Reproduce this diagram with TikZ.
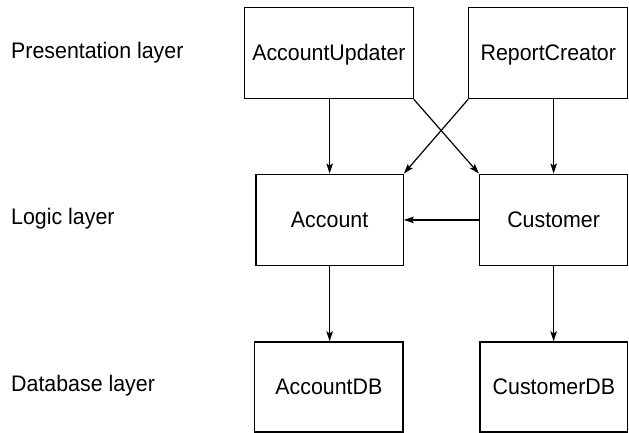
\documentclass[tikz,border=0pt]{standalone}
\usepackage{fontspec}
\setmainfont[FakeStretch=0.95]{Liberation Sans}
\usetikzlibrary{arrows.meta}
\begin{document}
\begin{tikzpicture}[x=1pt,y=-1pt,
  every node/.style={font=\fontsize{22.5}{26}\selectfont},
  box/.style={draw=black,line width=1.2pt,inner sep=0pt,text height=16pt,text depth=0pt,minimum height=91.5pt},
  layer/.style={anchor=base west,inner sep=0pt},
  conn/.style={line width=1.2pt,-{Stealth[length=10pt,width=6.5pt,inset=2pt]}}]
\useasboundingbox (0,0) rectangle (629,433);
\node[layer] (lp) at (11,59) {Presentation layer};
\node[layer] (ll) at (11,224) {Logic layer};
\node[layer] (ld) at (11,391.5) {Database layer};
\node[box,minimum width=168.5pt] (au) at (328.9,52.9) {AccountUpdater};
\node[box,minimum width=159pt] (rc) at (548.3,52.9) {ReportCreator};
\node[box,minimum width=147.3pt] (ac) at (329.6,219.9) {Account};
\node[box,minimum width=148.3pt] (cu) at (553.6,219.9) {Customer};
\node[box,minimum width=148.3pt,minimum height=90pt] (adb) at (328.9,386.9) {AccountDB};
\node[box,minimum width=147.8pt,minimum height=90pt] (cdb) at (553.9,386.9) {CustomerDB};
\draw[conn] (ac.north |- au.south) -- (ac.north);
\draw[conn] (cu.north |- rc.south) -- (cu.north);
\draw[conn] (au.south east) -- (cu.north west);
\draw[conn] (rc.south west) -- (ac.north east);
\draw[conn] (cu.west) -- (ac.east);
\draw[conn] (ac.south) -- (ac.south |- adb.north);
\draw[conn] (cu.south) -- (cu.south |- cdb.north);
\end{tikzpicture}
\end{document}
